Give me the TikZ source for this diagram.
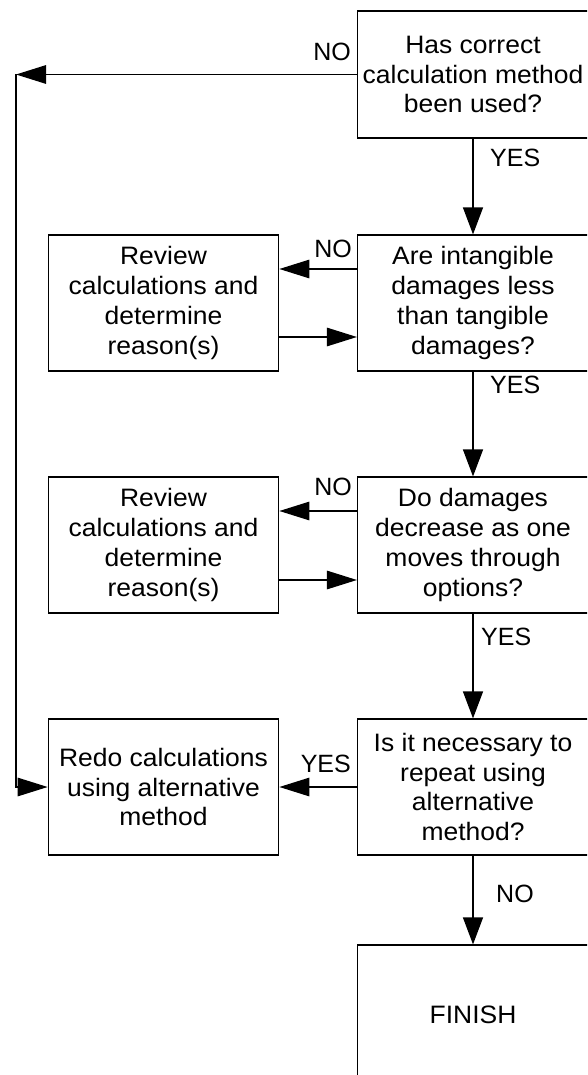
\documentclass[tikz,border=0pt]{standalone}
\usepackage{fontspec}
\setmainfont{Liberation Sans}
\newfontfamily\boxfam{Liberation Sans}[FakeStretch=1.05]
\usetikzlibrary{arrows.meta,calc}
\newcommand\flowfont{\boxfam\fontsize{25.2}{29.8}\selectfont}
\newcommand\labelfont{\fontsize{25}{30}\selectfont}
\begin{document}
\begin{tikzpicture}[x=1pt,y=-1pt,
  box/.style={draw, line width=1.2pt, rectangle, align=center, inner sep=0pt,
              font=\flowfont, minimum width=231pt},
  lbl/.style={font=\labelfont, inner sep=0pt},
  arrv/.style={line width=1.3pt, -{Triangle[length=27pt,width=20pt]}},
  arrh/.style={line width=1.3pt, -{Triangle[length=30pt,width=18.5pt]}}]

\clip (0,0) rectangle (587,1075);

% decision column
\node[box, minimum height=127pt] (R1) at (473,74.5) {Has correct\\calculation method\\been used?};
\node[box, minimum height=136pt] (R2) at (473,303) {Are intangible\\damages less\\than tangible\\damages?};
\node[box, minimum height=136pt] (R3) at (473,545) {Do damages\\decrease as one\\moves through\\options?};
\node[box, minimum height=136pt] (R4) at (473,787) {Is it necessary to\\repeat using\\alternative\\method?};
\node[box, minimum height=140pt] (R5) at (473,1015) {FINISH};

% action column
\node[box, minimum width=230.5pt, minimum height=136pt] (L1) at (163.5,303) {Review\\calculations and\\determine\\reason(s)};
\node[box, minimum width=230.5pt, minimum height=136pt] (L2) at (163.5,545) {Review\\calculations and\\determine\\reason(s)};
\node[box, minimum width=230.5pt, minimum height=136pt] (L3) at (163.5,787) {Redo calculations\\using alternative\\method};

% branch labels
\node[lbl, anchor=base east] (no1) at (351,61) {NO};
\node[lbl, anchor=base west] (yes1) at (490,167) {YES};
\node[lbl, anchor=base east] (no2) at (352,258) {NO};
\node[lbl, anchor=base west] (yes2) at (490,393) {YES};
\node[lbl, anchor=base east] (no3) at (352,495) {NO};
\node[lbl, anchor=base west] (yes3) at (481,645) {YES};
\node[lbl, anchor=base east] (yes4) at (351,772) {YES};
\node[lbl, anchor=base west] (no4) at (496,902) {NO};

% connector levels
\coordinate (ya) at (0,269);
\coordinate (yb) at (0,337);
\coordinate (yc) at (0,511);
\coordinate (yd) at (0,580);
\coordinate (c1) at (16,74.5);
\coordinate (c2) at (16,787);

% main flow
\draw[arrv] (R1.south) -- (R2.north);
\draw[arrv] (R2.south) -- (R3.north);
\draw[arrv] (R3.south) -- (R4.north);
\draw[arrv] (R4.south) -- (R5.north);

% side loops
\draw[arrh] (R1.west) -- (c1);
\draw[arrh] (c1) -- (c2) -- (L3.west);
\draw[arrh] (R2.west |- ya) -- (L1.east |- ya);
\draw[arrh] (L1.east |- yb) -- (R2.west |- yb);
\draw[arrh] (R3.west |- yc) -- (L2.east |- yc);
\draw[arrh] (L2.east |- yd) -- (R3.west |- yd);
\draw[arrh] (R4.west) -- (L3.east);
\end{tikzpicture}
\end{document}
